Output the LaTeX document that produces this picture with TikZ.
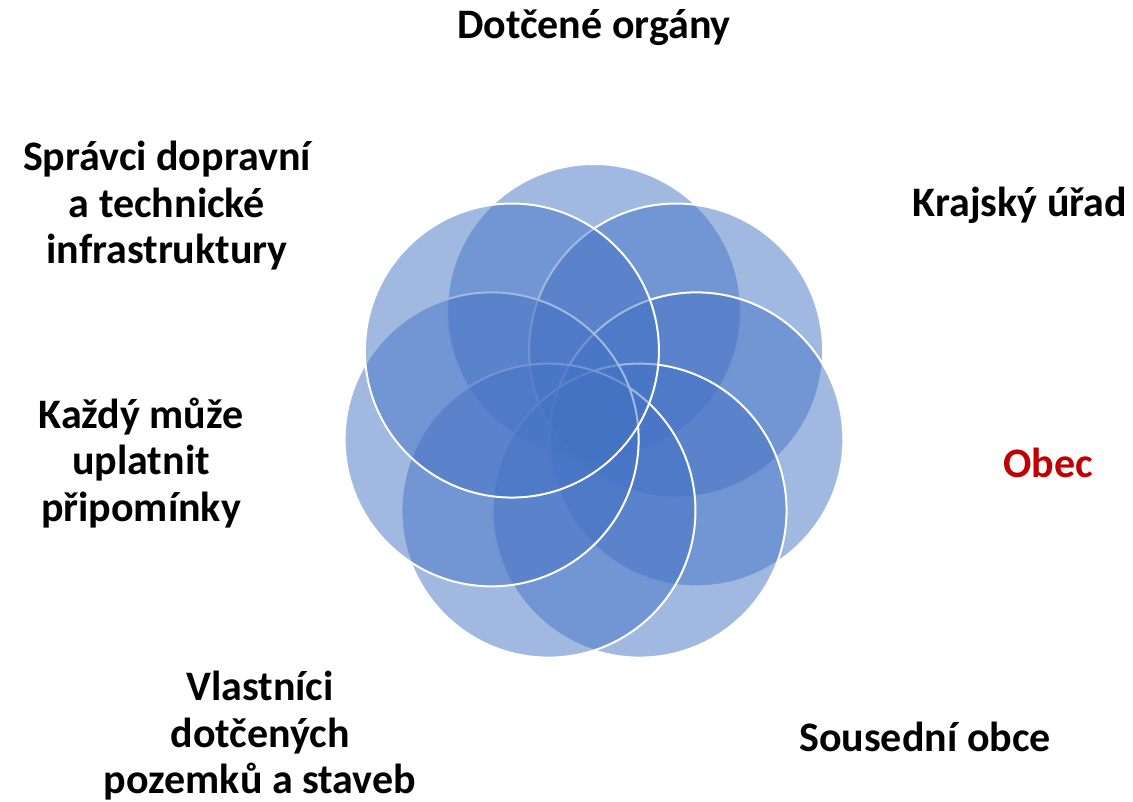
\documentclass[tikz,border=0pt]{standalone}
\usepackage{fontspec}
\setmainfont{Carlito}
\usetikzlibrary{calc}
\definecolor{petal}{HTML}{4472C4}
\definecolor{obecred}{HTML}{C00000}
\tikzset{
  petal/.style={fill=petal, fill opacity=0.5, draw=white, draw opacity=1, line width=2pt},
  lbl/.style={font=\fontsize{42}{46.5}\selectfont\bfseries, align=center, inner sep=0pt, text=black}
}
\begin{document}
\begin{tikzpicture}[x=1pt,y=-1pt]
\useasboundingbox (0,0) rectangle (1133,801);
\coordinate (c) at (594,416);
% petals drawn clockwise from the top
\foreach \a [count=\i] in {90,38.571,-12.857,-64.286,-115.714,-167.143,-218.571}{
  \path[petal] ($(c)+({105*cos(\a)},{-105*sin(\a)})$) circle[radius=147];
}
\node[lbl] (dot) at (594,28) {Dotčené orgány};
\node[lbl] (kraj) at (1020,205) {Krajský úřad};
\node[lbl, text=obecred] (obec) at (1048,463) {Obec};
\node[lbl] (sous) at (925,737) {Sousední obce};
\node[lbl] (vlast) at (260,736) {Vlastníci\\dotčených\\pozemků a staveb};
\node[lbl] (kazdy) at (141,463) {Každý může\\uplatnit\\připomínky};
\node[lbl] (spr) at (167,206) {Správci dopravní\\a technické\\infrastruktury};
\end{tikzpicture}
\end{document}
